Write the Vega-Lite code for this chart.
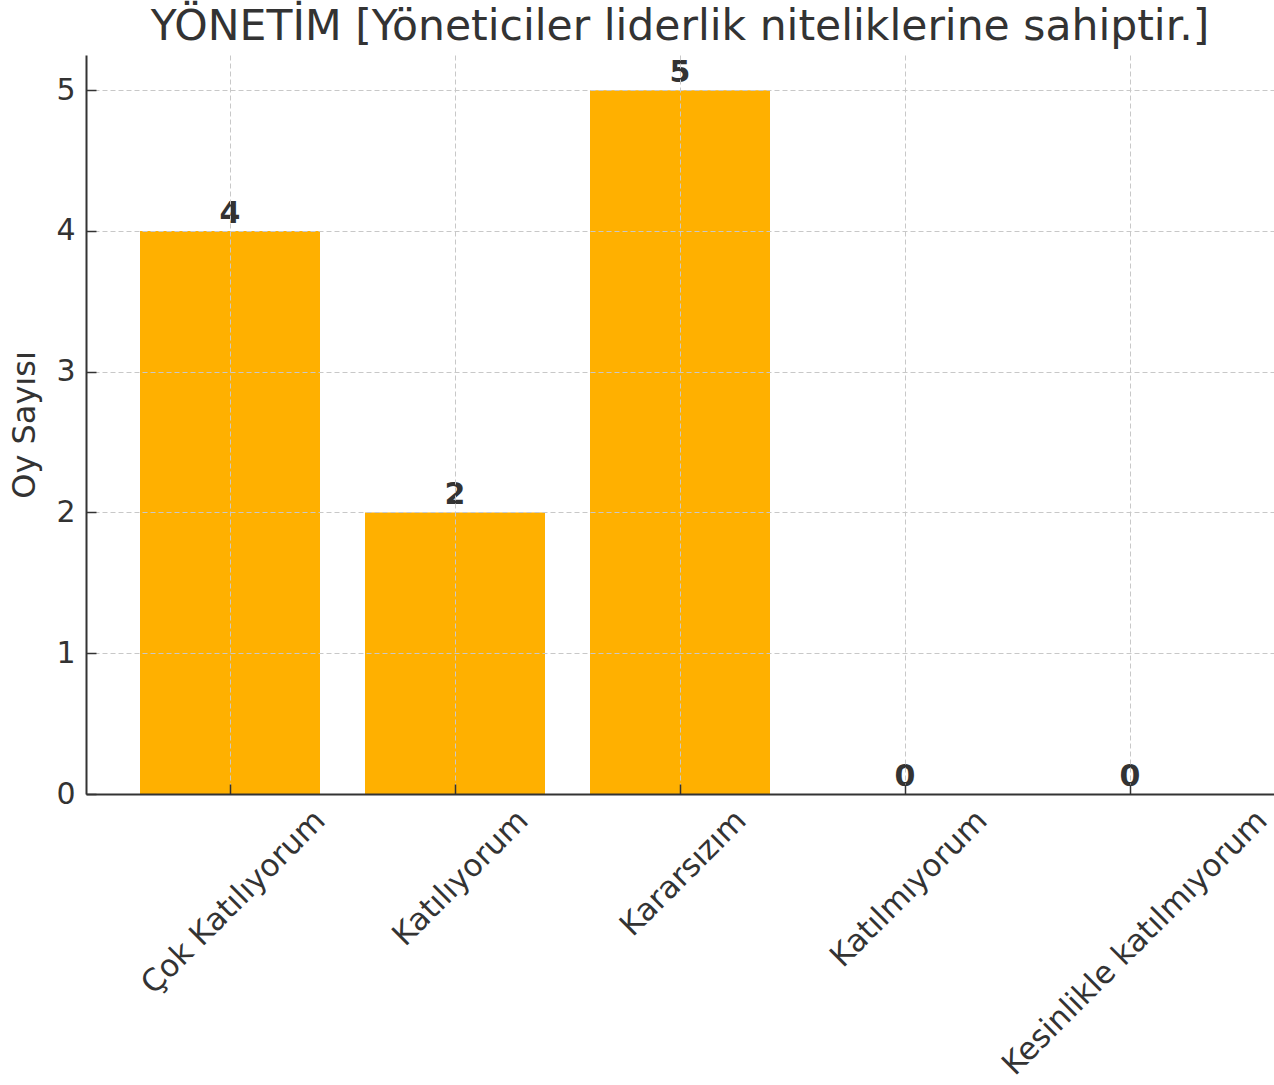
{
  "$schema": "https://vega.github.io/schema/vega-lite/v6.json",
  "width": 1188,
  "height": 739,
  "autosize": {"type": "none"},
  "padding": {"left": 86, "top": 55, "right": 0, "bottom": 291},
  "background": "white",
  "title": {
    "text": "YÖNETİM [Yöneticiler liderlik niteliklerine sahiptir.]",
    "font": "DejaVu Sans",
    "fontSize": 42.5,
    "fontWeight": "normal",
    "color": "#333333",
    "anchor": "middle",
    "offset": 7
  },
  "config": {
    "view": {"stroke": null},
    "font": "DejaVu Sans"
  },
  "data": {
    "values": [
      {"kategori": "Çok Katılıyorum", "oy": 4},
      {"kategori": "Katılıyorum", "oy": 2},
      {"kategori": "Kararsızım", "oy": 5},
      {"kategori": "Katılmıyorum", "oy": 0},
      {"kategori": "Kesinlikle katılmıyorum", "oy": 0}
    ]
  },
  "encoding": {
    "x": {
      "field": "kategori",
      "type": "nominal",
      "sort": null,
      "scale": {"paddingInner": 0.2, "paddingOuter": 0.24},
      "axis": {
        "title": null,
        "labelAngle": -45,
        "labelAlign": "right",
        "labelBaseline": "top",
        "labelFont": "DejaVu Sans",
        "labelFontSize": 31,
        "labelColor": "#333333",
        "labelPadding": 21,
        "labelLimit": 0,
        "labelOffset": {
          "condition": [
            {"test": "datum.value === 'Çok Katılıyorum'", "value": 80},
            {"test": "datum.value === 'Katılıyorum'", "value": 58},
            {"test": "datum.value === 'Kararsızım'", "value": 51},
            {"test": "datum.value === 'Katılmıyorum'", "value": 67},
            {"test": "datum.value === 'Kesinlikle katılmıyorum'", "value": 122}
          ],
          "value": 70
        },
        "labelOverlap": false,
        "domainColor": "#333333",
        "domainWidth": 2,
        "tickColor": "#333333",
        "tickWidth": 1.5,
        "tickSize": -10,
        "grid": true,
        "gridColor": "#c8c8c8",
        "gridDash": [5, 3],
        "gridWidth": 1,
        "zindex": 1
      }
    },
    "y": {
      "field": "oy",
      "type": "quantitative",
      "scale": {"domain": [0, 5.25], "nice": false, "zero": true},
      "axis": {
        "title": "Oy Sayısı",
        "titleFont": "DejaVu Sans",
        "titleFontSize": 32,
        "titleFontWeight": "normal",
        "titleColor": "#333333",
        "titlePadding": 14,
        "values": [0, 1, 2, 3, 4, 5],
        "labelFont": "DejaVu Sans",
        "labelFontSize": 30,
        "labelColor": "#333333",
        "labelPadding": 21,
        "domainColor": "#333333",
        "domainWidth": 2,
        "tickColor": "#333333",
        "tickWidth": 1.5,
        "tickSize": -10,
        "grid": true,
        "gridColor": "#c8c8c8",
        "gridDash": [5, 3],
        "gridWidth": 1,
        "zindex": 1
      }
    }
  },
  "layer": [
    {"mark": {"type": "bar", "color": "#ffb000"}},
    {
      "mark": {
        "type": "text",
        "baseline": "alphabetic",
        "dy": -8,
        "font": "DejaVu Sans",
        "fontSize": 30,
        "fontWeight": "bold",
        "color": "#333333"
      },
      "encoding": {"text": {"field": "oy", "type": "quantitative"}}
    }
  ]
}
